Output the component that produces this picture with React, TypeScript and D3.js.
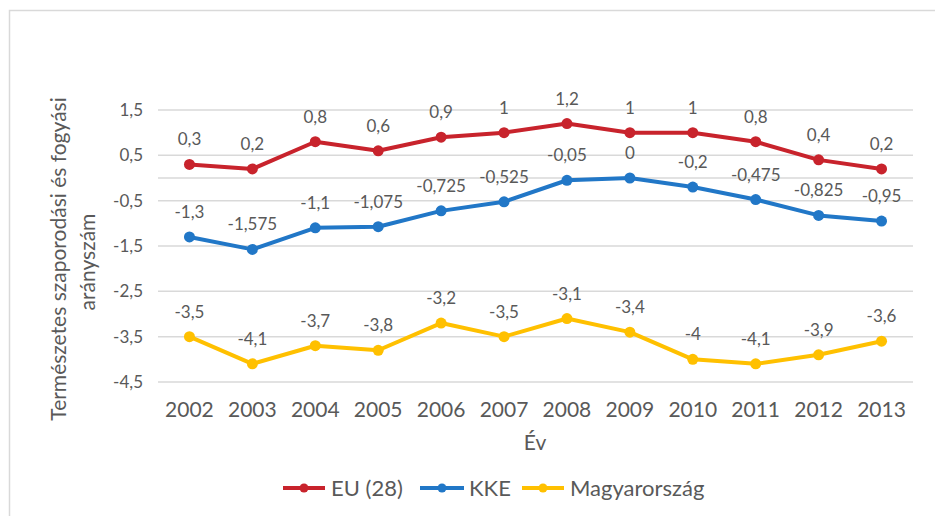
import React from "react";
import * as d3 from "d3";

const years = ["2002","2003","2004","2005","2006","2007","2008","2009","2010","2011","2012","2013"];
const euValues = [0.3,0.2,0.8,0.6,0.9,1,1.2,1,1,0.8,0.4,0.2];
const kkeValues = [-1.3,-1.575,-1.1,-1.075,-0.725,-0.525,-0.05,0,-0.2,-0.475,-0.825,-0.95];
const huValues = [-3.5,-4.1,-3.7,-3.8,-3.2,-3.5,-3.1,-3.4,-4,-4.1,-3.9,-3.6];
const seriesNames = ["EU (28)","KKE","Magyarország"];
const yTicks = [1.5,0.5,-0.5,-1.5,-2.5,-3.5,-4.5];
const yTitle1 = "Természetes szaporodási és fogyási";
const yTitle2 = "arányszám";
const xTitle = "Év";

const colors = ["#C8232C","#2177C7","#FFC000"];
const FONT = "Lato, 'Open Sans', sans-serif";
const TXT = "#595959";

const fmt = (v: number) => String(v).replace(".", ",");

export default function App() {
  const W = 935, H = 516;
  const x = d3.scalePoint<string>().domain(years).range([158, 913]).padding(0.5);
  const y = d3.scaleLinear().domain([-4.5, 1.5]).range([382, 110]);
  const series = [euValues, kkeValues, huValues];
  const line = d3.line<number>().x((_, i) => x(years[i])!).y(d => y(d));

  const legend = [
    { lx1: 283, lx2: 325, tx: 331 },
    { lx1: 420, lx2: 464, tx: 469 },
    { lx1: 522, lx2: 564, tx: 570 },
  ];

  return (
    <svg width={W} height={H} style={{ position: "absolute", left: 0, top: 0, background: "#fff" }} fontFamily={FONT}>
      <rect x={0} y={0} width={W} height={H} fill="#fff" />
      <path d={`M9.5,${H} V10.5 H${W}`} fill="none" stroke="#D9D9D9" strokeWidth={1.5} />
      {yTicks.map(t => (
        <g key={t}>
          <line x1={158} x2={913} y1={y(t)} y2={y(t)} stroke="#D9D9D9" strokeWidth={1.5} />
          <text x={143} y={y(t) + 6} textAnchor="end" fontSize={17} fill={TXT}>{fmt(t)}</text>
        </g>
      ))}
      <line x1={158} x2={913} y1={y(0)} y2={y(0)} stroke="#D9D9D9" strokeWidth={1.5} />
      {years.map(yr => (
        <text key={yr} x={x(yr)} y={417} textAnchor="middle" fontSize={21} fill={TXT}>{yr}</text>
      ))}
      <text x={535} y={450} textAnchor="middle" fontSize={21} fill={TXT}>{xTitle}</text>
      <text transform="translate(66,259) rotate(-90)" textAnchor="middle" fontSize={21} fill={TXT}>{yTitle1}</text>
      <text transform="translate(95,262) rotate(-90)" textAnchor="middle" fontSize={21} fill={TXT}>{yTitle2}</text>
      {series.map((vals, si) => (
        <g key={si}>
          <path d={line(vals) || ""} fill="none" stroke={colors[si]} strokeWidth={4} strokeLinejoin="round" />
          {vals.map((v, i) => (
            <circle key={i} cx={x(years[i])} cy={y(v)} r={5.5} fill={colors[si]} />
          ))}
          {vals.map((v, i) => (
            <text key={"l" + i} x={x(years[i])} y={y(v) - 19} textAnchor="middle" fontSize={17} fill={TXT}>{fmt(v)}</text>
          ))}
        </g>
      ))}
      {legend.map((l, i) => (
        <g key={i}>
          <line x1={l.lx1} x2={l.lx2} y1={488} y2={488} stroke={colors[i]} strokeWidth={4} />
          <circle cx={(l.lx1 + l.lx2) / 2} cy={488} r={4.5} fill={colors[i]} />
          <text x={l.tx} y={496} fontSize={22} fill={TXT}>{seriesNames[i]}</text>
        </g>
      ))}
    </svg>
  );
}
